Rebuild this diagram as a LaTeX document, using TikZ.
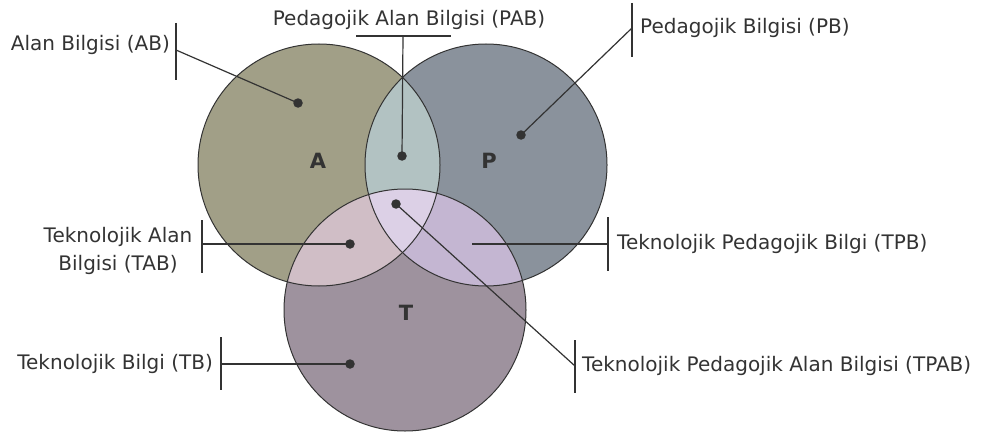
\documentclass[tikz,border=0pt]{standalone}
\usepackage{fontspec}
\setmainfont{DejaVu Sans}
\definecolor{colA}{RGB}{161,159,135}
\definecolor{colP}{RGB}{138,146,156}
\definecolor{colT}{RGB}{158,146,158}
\definecolor{colAP}{RGB}{178,194,194}
\definecolor{colAT}{RGB}{208,190,198}
\definecolor{colPT}{RGB}{196,182,210}
\definecolor{colAPT}{RGB}{220,208,230}
\definecolor{ink}{RGB}{51,51,51}
\begin{document}
\begin{tikzpicture}[x=1pt,y=-1pt,
  ring/.style={draw=ink, line width=1pt},
  lead/.style={draw=ink, line width=1.2pt},
  pin/.style={circle, fill=ink, inner sep=0pt, minimum size=9.5pt},
  lbl/.style={font=\fontsize{20}{28}\selectfont, text=ink, inner sep=0pt},
  big/.style={font=\bfseries\fontsize{21}{24}\selectfont, text=ink, inner sep=0pt}]
\useasboundingbox (0,0) rectangle (988,436);
\def\R{121pt}
\coordinate (cA) at (319,165);
\coordinate (cP) at (486,165);
\coordinate (cT) at (405,310);
% base fills
\fill[colA] (cA) circle[radius=\R];
\fill[colP] (cP) circle[radius=\R];
\fill[colT] (cT) circle[radius=\R];
\begin{scope}\clip (cA) circle[radius=\R]; \fill[colAP] (cP) circle[radius=\R];\end{scope}
\begin{scope}\clip (cA) circle[radius=\R]; \fill[colAT] (cT) circle[radius=\R];\end{scope}
\begin{scope}\clip (cP) circle[radius=\R]; \fill[colPT] (cT) circle[radius=\R];\end{scope}
\begin{scope}\clip (cA) circle[radius=\R]; \clip (cP) circle[radius=\R]; \fill[colAPT] (cT) circle[radius=\R];\end{scope}
% outlines
\draw[ring] (cA) circle[radius=\R];
\draw[ring] (cP) circle[radius=\R];
\draw[ring] (cT) circle[radius=\R];
% letters
\node[big] (LA) at (318,161) {A};
\node[big] (LP) at (489,161) {P};
\node[big] (LT) at (406,313) {T};
% dots
\node[pin] (dAB) at (298,103) {};
\node[pin] (dPAB) at (402,156) {};
\node[pin] (dPB) at (521,135) {};
\node[pin] (dTAB) at (350,244) {};
\node[pin] (dTB) at (350,364) {};
\node[pin] (dTPAB) at (396,204) {};
\coordinate (dTPB) at (472,244);
% bars
\coordinate (bAB) at (176,50);
\draw[lead] (176,23) -- (176,80);
\coordinate (bPAB) at (403,36);
\draw[lead] (356,36) -- (451,36);
\coordinate (bPB) at (632,28);
\draw[lead] (632,3) -- (632,57);
\coordinate (bTAB) at (202,244);
\draw[lead] (202,220) -- (202,273);
\coordinate (bTB) at (221,364);
\draw[lead] (221,337) -- (221,390);
\coordinate (bTPB) at (608,244);
\draw[lead] (608,217) -- (608,271);
\coordinate (bTPAB) at (575,366);
\draw[lead] (575,340) -- (575,393);
% leaders
\draw[lead] (dAB.center) -- (bAB);
\draw[lead] (dPAB.center) -- (bPAB);
\draw[lead] (dPB.center) -- (bPB);
\draw[lead] (dTAB.center) -- (bTAB);
\draw[lead] (dTB.center) -- (bTB);
\draw[lead] (dTPB) -- (bTPB);
\draw[lead] (dTPAB.center) -- (bTPAB);
% labels
\node[lbl, anchor=east] (tAB) at (170,45) {Alan Bilgisi (AB)};
\node[lbl] (tPAB) at (409,20) {Pedagojik Alan Bilgisi (PAB)};
\node[lbl, anchor=west] (tPB) at (640,28) {Pedagojik Bilgisi (PB)};
\node[lbl, align=center] (tTAB) at (118,251) {Teknolojik Alan\\Bilgisi (TAB)};
\node[lbl, anchor=east] (tTB) at (213,364) {Teknolojik Bilgi (TB)};
\node[lbl, anchor=west] (tTPB) at (617,244) {Teknolojik Pedagojik Bilgi (TPB)};
\node[lbl, anchor=west] (tTPAB) at (582,366) {Teknolojik Pedagojik Alan Bilgisi (TPAB)};
\end{tikzpicture}
\end{document}
